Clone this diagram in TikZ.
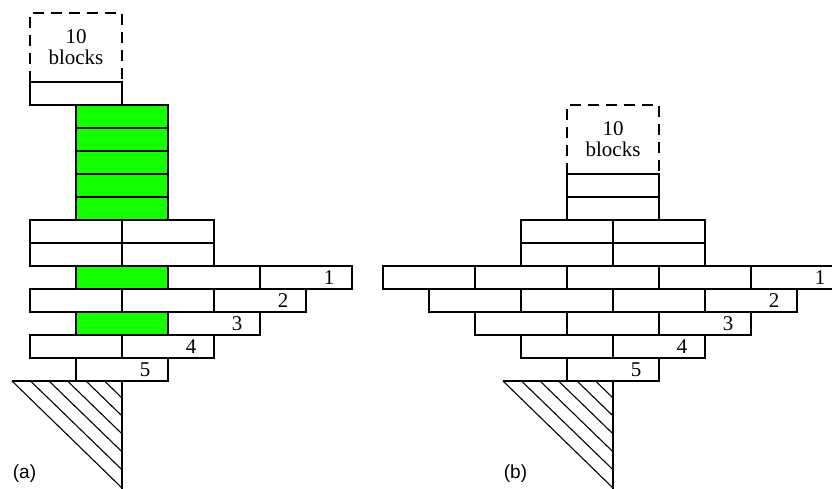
\documentclass[tikz,border=0pt]{standalone}
\usepackage{fontspec}
\setmainfont{Liberation Serif}
\newfontfamily\labfont{Liberation Sans}
\definecolor{blockgreen}{RGB}{20,255,0}
\newcommand\blkat[3][blk]{\draw[#1] (#2,#3) rectangle ++(92,23);}
\begin{document}
\begin{tikzpicture}[x=1pt,y=-1pt,
  blk/.style={draw=black,fill=white,line width=1.1pt},
  gblk/.style={blk,fill=blockgreen},
  dbox/.style={draw=black,dash pattern=on 11pt off 7pt,line width=1.1pt},
  num/.style={font=\fontsize{21}{21}\selectfont,inner sep=0pt},
  tenlbl/.style={font=\fontsize{21}{21}\selectfont,align=center,inner sep=0pt},
  panel/.style={font=\labfont\fontsize{19}{19}\selectfont,inner sep=0pt},
  hatch/.style={draw=black,line width=1.1pt}]
\useasboundingbox (0,0) rectangle (832,488);
\clip (0,0) rectangle (832,488);

% ---------------- panel (a) ----------------
\draw[dbox] (30,82) -- (30,13) -- (122,13) -- (122,82);
\node[tenlbl] (tena) at (76,47.5) {10\\blocks};
\blkat{30}{82}
\foreach \k in {0,...,4} {\blkat[gblk]{76}{105+23*\k}}
\blkat{30}{220}\blkat{122}{220}
\blkat{30}{243}\blkat{122}{243}
\blkat[gblk]{76}{266}\blkat{168}{266}\blkat{260}{266}
\blkat{30}{289}\blkat{122}{289}\blkat{214}{289}
\blkat[gblk]{76}{312}\blkat{168}{312}
\blkat{30}{335}\blkat{122}{335}
\blkat{76}{358}
\node[num] (a1) at (329,277.5) {1};
\node[num] (a2) at (283,300.5) {2};
\node[num] (a3) at (237,323.5) {3};
\node[num] (a4) at (191,346.5) {4};
\node[num] (a5) at (145,369.5) {5};
% ground (a)
\draw[hatch] (12,381) -- (122,381) -- (122,492);
\draw[hatch] (12,381) -- (122,488);
\foreach \x in {30.5,49,67.5,86,104.5}
  \draw[hatch] (\x,381) -- (122,{381+0.97*(122-\x)});
\node[panel] (pa) at (24.5,474) {(a)};

% ---------------- panel (b) ----------------
\draw[dbox] (567,174) -- (567,105) -- (659,105) -- (659,174);
\node[tenlbl] (tenb) at (613,139.5) {10\\blocks};
\blkat{567}{174}\blkat{567}{197}
\blkat{521}{220}\blkat{613}{220}
\blkat{521}{243}\blkat{613}{243}
\foreach \x in {383,475,567,659,751} {\blkat{\x}{266}}
\foreach \x in {429,521,613,705} {\blkat{\x}{289}}
\foreach \x in {475,567,659} {\blkat{\x}{312}}
\foreach \x in {521,613} {\blkat{\x}{335}}
\blkat{567}{358}
\node[num] (b1) at (820,277.5) {1};
\node[num] (b2) at (774,300.5) {2};
\node[num] (b3) at (728,323.5) {3};
\node[num] (b4) at (682,346.5) {4};
\node[num] (b5) at (636,369.5) {5};
% ground (b)
\draw[hatch] (503,381) -- (613,381) -- (613,492);
\draw[hatch] (503,381) -- (613,488);
\foreach \x in {521.5,540,558.5,577,595.5}
  \draw[hatch] (\x,381) -- (613,{381+0.97*(613-\x)});
\node[panel] (pb) at (515.5,474) {(b)};
\end{tikzpicture}
\end{document}
